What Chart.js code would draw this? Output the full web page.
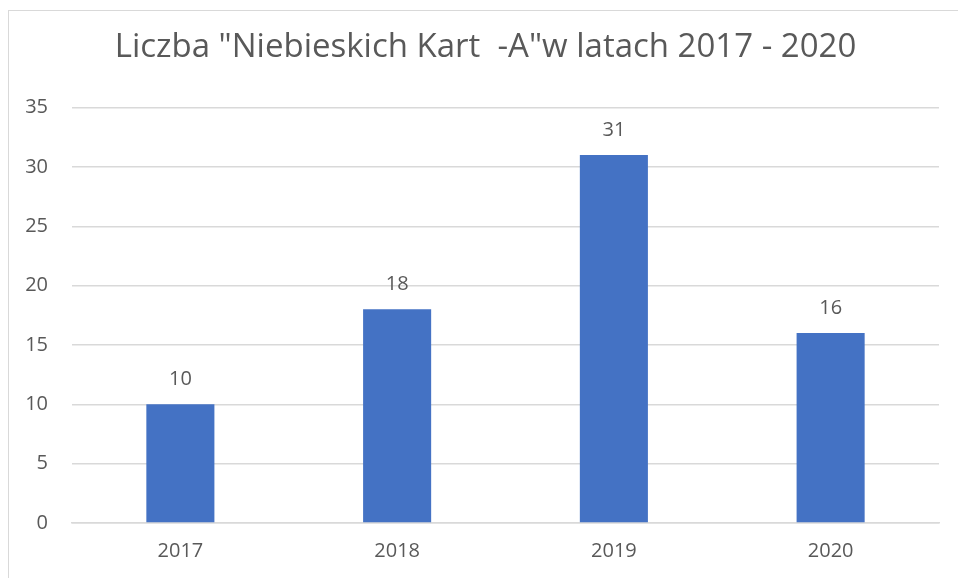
<!DOCTYPE html>
<html>
<head>
<meta charset="utf-8">
<script src="https://cdn.jsdelivr.net/npm/chart.js@4/dist/chart.umd.min.js"></script>
<style>
  html, body { margin: 0; padding: 0; background: #fff; }
  #wrap { position: relative; width: 958px; height: 578px; }
  #frame { position: absolute; left: 8px; top: 10px; right: -2px; bottom: -2px;
           border-left: 1.5px solid #d9d9d9; border-top: 1.5px solid #d9d9d9; }
  canvas { position: absolute; left: 0; top: 0; }
</style>
</head>
<body>
<div id="wrap">
  <div id="frame"></div>
  <canvas id="stage" width="958" height="578"></canvas>
</div>
<script>
// dane
var lata = ['2017', '2018', '2019', '2020'];
var karty = [10, 18, 31, 16];
var tytul = 'Liczba "Niebieskich Kart  -A"w latach 2017 - 2020';

var szary = '#595959';
var font = '"Open Sans", sans-serif';

// etykiety nad slupkami
var etykiety = {
  id: 'etykiety',
  afterDatasetsDraw: function(chart) {
    var ctx = chart.ctx;
    var meta = chart.getDatasetMeta(0);
    ctx.save();
    ctx.fillStyle = szary;
    ctx.font = '20px ' + font;
    ctx.textAlign = 'center';
    ctx.textBaseline = 'middle';
    meta.data.forEach(function(bar, i) {
      ctx.fillText(String(karty[i]), bar.x, bar.y - 25);
    });
    ctx.restore();
  }
};

var canvas = document.getElementById('stage');
var chart = new Chart(canvas, {
  type: 'bar',
  data: {
    labels: lata,
    datasets: [{
      label: 'Liczba',
      data: karty,
      backgroundColor: '#4472C4',
      barPercentage: 0.314,
      categoryPercentage: 1.0
    }]
  },
  options: {
    responsive: false,
    animation: false,
    layout: { padding: { left: 13, right: 0, top: 0, bottom: 0 } },
    plugins: {
      legend: { display: false },
      tooltip: { enabled: false },
      title: {
        display: true,
        text: tytul,
        color: szary,
        font: { family: font, size: 33, weight: 'normal' },
        padding: { top: 28, bottom: 40 }
      }
    },
    scales: {
      x: {
        grid: { display: false, drawTicks: false },
        border: { color: '#d9d9d9', width: 1.5 },
        ticks: { color: szary, font: { family: font, size: 20 }, padding: 16 },
        afterFit: function(s) { s.height = 55; }
      },
      y: {
        min: 0,
        max: 35,
        ticks: { stepSize: 5, color: szary, font: { family: font, size: 20 }, padding: 24 },
        grid: { color: '#d9d9d9', lineWidth: 1.5, drawTicks: false },
        border: { display: false },
        afterFit: function(s) { s.width = 59; }
      },
      // pusty margines z prawej
      prawy: {
        position: 'right',
        ticks: { display: false },
        grid: { display: false, drawTicks: false },
        border: { display: false },
        afterFit: function(s) { s.width = 19; }
      }
    }
  },
  plugins: [etykiety]
});
</script>
</body>
</html>
